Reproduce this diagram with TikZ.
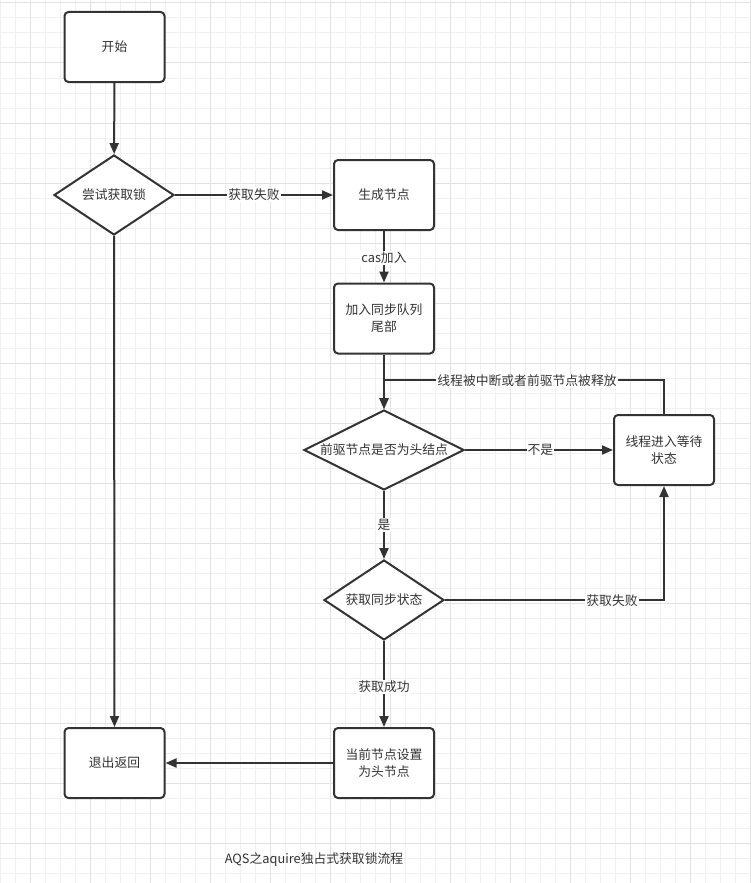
\documentclass[tikz,border=0pt]{standalone}
\usepackage{fontspec}
\setmainfont{Noto Sans CJK SC}
\usetikzlibrary{arrows.meta,shapes.geometric}
\definecolor{ink}{HTML}{333333}
\definecolor{gridminor}{HTML}{F0F0F0}
\definecolor{gridmajor}{HTML}{E2E2E2}
\begin{document}
\begin{tikzpicture}[x=1pt,y=-1pt,
  every node/.style={text=ink,font=\fontsize{12.8}{17}\selectfont},
  procbox/.style={draw=ink,line width=2pt,rounded corners=4pt,fill=white,minimum width=100pt,minimum height=70pt,align=center,inner sep=0pt},
  decision/.style={draw=ink,line width=2pt,diamond,fill=white,inner sep=0pt,aspect=2},
  flow/.style={draw=ink,line width=2pt,-{Triangle[length=11pt,width=9pt]}},
  plain/.style={draw=ink,line width=2pt},
  lbl/.style={fill=white,inner sep=1pt}]
% background and grid
\fill[white] (0,0) rectangle (751,883);
\useasboundingbox (0,0) rectangle (751,883);
\foreach \gx in {0,15,...,750} \draw[gridminor,line width=1pt] (\gx,0) -- (\gx,883);
\foreach \gy in {3,18,...,883} \draw[gridminor,line width=1pt] (0,\gy) -- (751,\gy);
\foreach \gx in {30,90,...,750} \draw[gridmajor,line width=1pt] (\gx,0) -- (\gx,883);
\foreach \gy in {3,63,...,883} \draw[gridmajor,line width=1pt] (0,\gy) -- (751,\gy);
% nodes
\node[procbox] (start) at (114.5,47) {开始};
\node[decision,minimum width=120pt,minimum height=80pt] (try) at (114,195) {尝试获取锁};
\node[procbox] (gen) at (384,195) {生成节点};
\node[procbox] (enq) at (384,318.5) {加入同步队列\\尾部};
\node[decision,minimum width=160pt,minimum height=80pt] (judge) at (384,450) {前驱节点是否为头结点};
\node[procbox] (wait) at (664,450) {线程进入等待\\状态};
\node[decision,minimum width=120pt,minimum height=80pt] (state) at (384,600) {获取同步状态};
\node[procbox] (sethead) at (384,763) {当前节点设置\\为头节点};
\node[procbox] (exit) at (114.5,763) {退出返回};
\coordinate (loopc) at (384,380);
% connectors
\draw[flow] (start) -- (try);
\draw[flow] (try.east) -- node[lbl] (l1) {获取失败} (gen.west);
\draw[flow] (gen) -- node[lbl,pos=0.52] (l2) {cas加入} (enq);
\draw[flow] (enq) -- (judge);
\draw[flow] (judge.east) -- node[lbl,pos=0.51] (l3) {不是} (wait.west);
\draw[flow] (wait.north) |- (loopc) -- (judge.north);
\node[lbl] (l4) at (527,381) {线程被中断或者前驱节点被释放};
\draw[flow] (judge.south) -- node[lbl,pos=0.5] (l5) {是} (state.north);
\draw[flow] (state.east) -| (wait.south);
\node[lbl] (l6) at (612,601) {获取失败};
\draw[flow] (state.south) -- node[lbl,pos=0.53] (l7) {获取成功} (sethead.north);
\draw[flow] (sethead.west) -- (exit.east);
\draw[flow] (try.south) -- (exit.north);
% title
\node[inner sep=0pt] (title) at (314,860) {AQS之aquire独占式获取锁流程};
\end{tikzpicture}
\end{document}
